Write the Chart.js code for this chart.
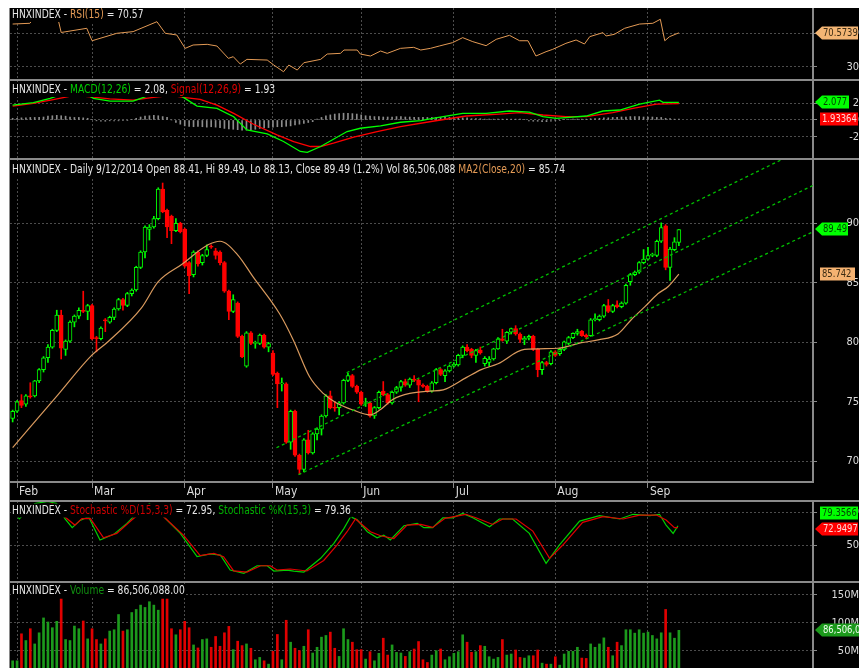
<!DOCTYPE html>
<html>
<head>
<meta charset="utf-8">
<title>HNXINDEX</title>
<script src="https://cdn.jsdelivr.net/npm/chart.js@4.4.1/dist/chart.umd.min.js"></script>
<style>
  body { margin: 0; background: #fff; }
  #wrap { position: absolute; left: 9px; top: 8px; width: 850px; height: 660px; background: #000; overflow: hidden; }
  #wrap canvas { position: absolute; left: 0; }
  .sep { position: absolute; left: 0; width: 850px; height: 2px; background: #8a8a8a; }
  .vl { position: absolute; left: 0; top: 0; width: 1px; height: 660px; background: #8a8a8a; }
</style>
</head>
<body>
<div id="wrap">
  <canvas id="rsi" width="850" height="71" style="top:0"></canvas>
  <canvas id="macd" width="850" height="78" style="top:72px"></canvas>
  <canvas id="main" width="850" height="341" style="top:151px"></canvas>
  <canvas id="stoch" width="850" height="80" style="top:493px"></canvas>
  <canvas id="vol" width="850" height="86" style="top:574px"></canvas>
  <div class="sep" style="top:71px"></div>
  <div class="sep" style="top:150px"></div>
  <div class="sep" style="top:492px"></div>
  <div class="sep" style="top:573px"></div>
  <div class="vl"></div>
</div>
<script>
// bar index of first trading day of each month
const monthIdx = [1, 18, 39, 59, 79, 100, 123, 144];
const monthLabels = ['Feb', 'Mar', 'Apr', 'May', 'Jun', 'Jul', 'Aug', 'Sep'];

// daily OHLC, late Jan .. 9/12/2014
const opens = [73.6,74.2,75.1,74.8,75.5,75.5,76.75,77.7,78.7,79.6,
  81.0,82.3,79.4,80.1,81.7,82.2,82.7,82.6,83.1,80.4,
  80.3,81.9,81.7,82.1,82.8,83.6,83.1,84.1,84.4,86.3,
  87.6,89.5,89.7,90.4,92.9,91.1,90.6,89.4,90.0,89.5,
  86.7,85.7,87.6,86.7,87.3,88.1,87.7,87.6,86.7,84.3,
  82.6,83.3,80.5,78.0,80.8,79.9,79.9,80.6,79.6,79.1,
  77.4,76.5,76.5,71.6,74.2,70.5,69.3,71.8,70.7,72.3,
  72.7,73.8,75.5,74.5,74.5,74.9,76.8,77.2,76.3,75.8,
  74.85,74.9,73.8,74.5,75.9,75.6,74.9,75.8,76.2,76.7,
  76.4,76.9,76.8,76.4,76.3,75.9,76.6,77.7,77.2,77.6,
  78.0,78.1,78.9,79.6,79.4,78.9,79.35,78.2,78.3,78.6,
  79.45,80.3,80.1,80.85,81.15,80.7,80.2,80.35,80.5,79.4,
  77.7,78.3,78.2,79.2,79.05,79.4,79.9,80.4,80.75,80.95,
  80.6,80.55,81.9,81.9,82.2,83.1,82.6,83.15,83.0,83.3,
  85.1,85.7,85.9,86.7,87.0,87.3,87.3,88.5,89.8,86.3,
  87.8,88.41];
const highs = [74.3,75.1,75.6,75.6,76.6,76.8,77.8,78.8,79.8,81.1,
  82.7,82.7,80.2,81.8,82.3,82.9,84.3,83.2,83.2,80.5,
  81.3,82.0,82.2,82.9,83.7,83.7,84.2,84.5,86.4,87.7,
  89.8,89.9,90.6,93.0,93.4,91.2,90.7,90.4,90.1,89.6,
  86.8,87.7,87.7,87.4,88.2,88.2,87.9,87.7,86.8,84.4,
  84.0,83.4,80.6,80.9,80.9,80.1,80.7,80.7,80.0,79.3,
  77.5,77.0,76.6,74.3,74.3,70.6,71.9,72.6,72.4,72.8,
  73.9,75.6,75.9,75.0,75.0,76.9,77.4,77.3,76.4,75.9,
  75.3,75.0,74.6,75.9,76.7,75.7,75.9,76.3,76.8,76.9,
  77.0,77.2,76.9,76.5,76.4,76.7,77.8,77.8,77.7,78.1,
  78.3,79.0,79.7,79.8,79.5,79.4,79.6,78.8,78.8,79.5,
  80.4,81.1,80.9,81.2,81.4,80.8,80.5,80.6,80.6,79.5,
  78.4,78.4,79.3,79.3,79.5,80.1,80.5,80.8,81.1,81.0,
  80.7,82.0,82.4,82.3,83.2,83.6,83.2,83.5,83.4,84.9,
  85.8,86.0,86.8,87.8,88.0,87.5,88.6,90.05,89.9,88.0,
  88.8,89.49];
const lows = [73.3,74.1,74.5,74.6,75.3,75.4,76.6,77.5,78.3,79.5,
  80.9,78.6,78.9,80.0,81.3,82.0,82.5,81.9,80.2,79.2,
  80.2,80.9,81.6,81.9,82.7,82.7,83.0,83.9,84.3,86.2,
  87.1,88.6,89.6,90.3,90.9,88.8,88.3,89.3,89.2,86.3,
  84.1,85.5,86.4,86.5,87.2,87.9,87.0,86.5,84.2,81.9,
  82.5,80.4,78.7,77.9,79.8,79.5,79.8,79.5,79.2,77.2,
  74.5,75.9,71.5,71.0,70.4,68.9,69.1,70.6,70.6,71.8,
  72.2,73.7,74.4,74.2,73.9,74.8,76.7,76.2,75.7,74.7,
  74.6,73.7,73.6,74.4,75.5,74.8,74.8,75.7,75.9,76.3,
  76.2,76.7,75.0,76.2,75.8,75.8,76.5,77.2,76.7,77.5,
  77.9,78.0,78.7,79.2,78.7,78.3,79.0,78.0,78.0,78.5,
  79.4,80.1,79.9,80.7,80.6,80.0,79.8,80.2,79.3,77.1,
  77.3,78.0,78.1,78.8,78.9,79.3,79.8,80.3,80.6,80.5,
  80.3,80.5,81.8,81.8,82.1,82.5,82.5,82.9,82.9,83.2,
  84.8,85.6,85.8,86.6,86.9,87.2,87.2,88.4,86.1,85.2,
  87.7,88.13];
const closes = [74.2,75.0,74.7,75.5,75.4,76.75,77.7,78.7,79.6,81.0,
  82.3,79.5,80.1,81.7,82.2,82.7,82.6,83.1,80.3,80.3,
  81.2,81.8,82.1,82.8,83.6,83.1,84.1,84.4,86.3,87.6,
  89.7,89.7,90.4,92.9,91.0,89.7,89.4,90.0,89.3,86.4,
  85.6,87.6,86.6,87.3,87.8,88.0,87.3,86.7,84.3,82.6,
  83.6,80.5,78.8,80.8,79.9,80.0,80.6,79.6,79.9,77.3,
  76.5,76.6,71.6,74.2,70.5,69.3,71.8,70.7,72.3,72.7,
  73.8,75.5,74.5,74.45,74.9,76.8,77.2,76.3,75.8,74.8,
  74.9,73.8,74.5,75.8,75.6,74.9,75.8,76.2,76.7,76.4,
  76.9,76.8,76.4,76.3,75.9,76.6,77.7,77.3,77.6,78.0,
  78.15,78.9,79.6,79.3,78.9,79.3,79.1,78.65,78.6,79.45,
  80.3,80.15,80.85,81.15,80.7,80.25,80.35,80.5,79.4,77.7,
  78.3,78.15,79.2,78.9,79.4,80.05,80.4,80.75,80.9,80.55,
  80.45,81.9,82.0,82.2,83.1,82.6,83.1,83.0,83.3,84.8,
  85.7,85.9,86.7,87.0,87.3,87.4,88.5,89.65,86.3,87.85,
  88.45,89.49];

// volume, millions of shares
const volumes = [31.8,31.8,80.3,68.2,89.4,62.1,82.1,108.8,101.5,91.2,
  102.7,142.7,70.0,68.2,94.2,89.4,103.3,71.2,89.4,70.0,
  62.1,71.2,85.2,87.6,114.9,85.2,87.6,118.5,124.0,131.8,
  127.6,137.9,131.8,122.7,142.7,142.7,89.4,78.5,87.6,102.7,
  91.2,60.3,54.9,70.0,71.2,56.1,75.5,57.9,82.1,93.6,
  51.8,67.0,59.1,62.1,54.3,33.7,37.9,31.8,25.8,48.8,
  79.1,33.7,104.6,65.2,54.3,50.0,57.9,87.6,45.8,56.1,
  74.3,77.3,83.3,54.3,39.7,89.4,70.0,65.2,51.8,51.8,
  34.9,48.2,31.8,45.2,72.4,42.1,60.3,47.0,45.8,39.7,
  48.2,53.0,66.4,33.7,28.8,42.1,50.0,53.0,33.7,39.1,
  45.2,48.2,78.5,65.2,47.0,48.2,59.1,57.9,39.1,34.9,
  37.9,70.0,42.1,44.0,51.2,37.9,36.7,40.9,40.9,51.2,
  27.6,25.8,25.8,39.1,24.0,44.0,48.8,48.8,56.1,36.7,
  36.1,62.1,56.1,62.1,73.0,56.1,40.9,65.2,59.1,87.6,
  87.6,81.5,87.6,81.5,83.3,77.3,71.2,82.1,124.0,82.1,
  72.4,86.5];

// MA(close,20)
const maX = [0,10.3,17.9,21.6,29.2,33,38.3,44.3,47,50.9,54.5,60.5,63.6,67.3,70.4,73.4,77.2,81,83.2,86.2,
  90,94.6,97.6,102.9,106.2,110,116,123.6,128.9,132.7,137.2,140.2,143.3,146.3,148.6,151];
const maY = [71.15,75.6,78.9,80.05,82.9,85.1,86.55,88.2,88.5,87.4,85.5,82.4,80.2,77.1,75.7,74.9,74.3,73.9,74.3,75.2,
  75.7,75.9,76.0,77.05,77.7,78.2,79.4,79.5,79.97,80.2,80.7,81.9,83.0,84.1,84.7,85.742];

// trend channel (end points)
const chanUpX = [75.7, 181.4], chanUpY = [77.44, 96.66];
const chanMidX = [59.8, 181.4], chanMidY = [71.13, 93.2];
const chanLoX = [64.8, 181.4], chanLoY = [68.87, 89.3];

// RSI(15)
const rsiX = [0,3.9,5.1,10.2,11,16.8,18,23.6,27.3,32.7,34.6,37.2,39.1,40.9,44.1,46.3,48.9,50.0,51.6,53.1,
  57.7,59.2,61.4,62.6,64.5,66.0,69.8,71.3,74.3,75.1,78.1,78.8,81.1,83.4,84.9,87.9,90.9,92.5,94.7,96.7,
  99.7,102.0,104.3,107.3,109.6,112.6,114.9,116.8,118.6,120.9,122.4,125.4,127.7,129.6,130.8,133.8,134.5,136.4,138.7,142.1,
  145.1,146.8,147.8,148.9,151];
const rsiY = [81.1,82,90,89,71,76,61.1,70,72,83.9,70,68,52,56,56.8,54.8,40,42,33.2,38.8,
  38,32,24,32,26,34.8,38.8,45.2,46,50,50,45.2,42.8,48.8,46,52,53.2,50,52,54.8,
  58.8,64.8,60,55.2,62.8,67.6,61.1,61.1,42.8,48,50.8,58,62,57.2,66,70.8,66.8,68.8,76,81.1,
  82,86.8,61.1,66,70.57];

// MACD(12,26), Signal(12,26,9), histogram
const macdX = [0,4.7,8.5,12,16,18.3,22.1,27.3,29.7,33,37,38.7,41.8,46.3,50.1,53.1,57.7,61.4,65.2,66.8,
  69.8,75.8,78.8,83.4,87.9,92.5,95.2,102,107.3,112.6,117.1,120.2,123.2,130,133.8,137.6,142.1,146.6,147.4,151];
const macdY = [1.76,2.04,2.55,3.2,3.3,2.55,2.24,2.24,2.67,3.4,3.2,2.67,1.65,1.37,0.39,-1.18,-1.65,-2.55,-3.73,-3.84,
  -3.14,-1.37,-0.98,-0.71,-0.27,-0.08,0.2,0.78,0.78,1.06,0.94,0.39,0.2,0.47,1.06,1.18,1.88,2.35,2.08,2.08];
const sigX = [0,4.7,9.2,14,18.3,22,27.3,31.9,36,38.7,42.5,46.3,50.1,54.6,59.9,63.7,67.5,69.8,72.7,77.3,
  82.6,87.9,95.2,102.8,110.3,114.9,120.2,125.4,130,136,140.6,145.9,151];
const sigY = [1.65,1.96,2.4,2.9,2.7,2.5,2.35,2.67,2.9,2.67,2.43,1.76,0.78,-0.51,-1.76,-2.55,-3.14,-3.14,-2.75,-2.04,
  -1.37,-0.78,-0.15,0.47,0.7,0.86,0.59,0.39,0.39,0.86,1.37,1.88,1.93];
const histVals = [0.2,0.2,0.25,0.25,0.3,0.3,0.3,0.35,
  0.45,0.5,0.55,0.5,0.45,
  0.35,0.3,0.3,0.25,0.2,0.05,
  -0.1,-0.15,-0.15,-0.1,-0.1,-0.1,-0.05,-0.05,0.05,0.2,
  0.35,0.45,0.5,0.55,0.5,0.4,0.3,
  0.0,-0.3,-0.5,
  -0.7,-0.75,-0.8,-0.75,-0.8,-0.85,-0.8,-0.85,-0.9,-1.0,-1.05,-1.1,
  -1.15,-1.2,-1.2,-1.15,-1.1,
  -1.0,-0.95,-0.9,-0.85,-0.8,-0.8,-0.75,-0.7,-0.6,-0.5,-0.4,-0.3,-0.2,
  0.1,0.3,0.5,0.6,0.7,0.75,0.8,0.8,0.75,0.7,0.6,0.5,
  0.45,0.4,0.4,0.35,0.35,0.35,0.4,0.4,0.35,0.35,0.3,0.3,0.3,0.3,0.3,
  0.3,0.3,0.35,0.3,0.3,0.3,0.25,0.25,
  0.15,0.15,0.15,0.1,0.1,0.1,0.1,0.1,0.1,0.1,0.1,0.1,0.05,
  -0.1,-0.15,-0.15,-0.2,-0.2,-0.15,-0.1,-0.05,
  0.05,0.05,0.1,0.1,0.1,0.1,0.15,0.15,0.2,0.25,0.25,0.3,0.3,0.35,
  0.35,0.4,0.4,0.4,0.35,0.35,0.35,0.3,0.3,
  0.2,0.15,0.1,0.1];

// Stochastic %K(15,3) and %D(15,3,3)
const kX = [0,1.5,3,5,8,10,11.8,13.5,15.3,17.2,19.8,22.9,25.9,27.4,31,34.2,38,41.8,44.8,47.1,
  49.3,52.4,55.4,57.7,59.2,62.2,63.7,66,69.8,72.8,75.1,76.6,78.1,80.4,82.6,84.1,85.6,88.7,91.7,93.2,
  95.2,97.5,99.7,102,104.3,108.1,110.3,113.3,117.1,120.9,123.9,128.5,133,137.6,140.6,144.4,146.6,148.1,149.7,150.8];
const kY = [82,74,80,88,90,88,74.5,65.9,72.6,76,54.6,59.8,69.9,76,88,76,60.7,39.3,41.9,40.8,
  27.1,24,31,31,26.1,27,26.1,25.2,37.8,51.6,65.3,76,73.1,62.2,56.7,59.1,54.6,67.7,69.9,65.9,
  65.9,75,75,79,75,66.8,73.9,73.9,60.7,33.2,50,72,76.9,73.9,78.2,76.9,78.2,68.3,60.7,67.7];
const dX = [0,2,4,6,9,11.8,14.1,15.7,17.6,20.6,23.6,27,31,34.6,38.7,42.5,45.6,47.8,50.1,53.1,
  56.2,58.4,59.9,62.9,66.7,70.5,73.5,75.8,77.7,81.1,83.4,86.4,89.4,92.5,95.2,98,102.7,105,108.8,111.1,
  114.1,117.9,121.7,124.7,129.2,133.8,138.4,142.1,145.9,148.1,150,150.8];
const dY = [80,78,77,84,88,76,68.3,74.2,74.5,56.7,60.7,72.9,86,74.5,59.1,40.3,42.4,39.3,26.3,25.2,
  31,31,27.1,28,26.2,35.8,50,62.2,73.9,62.2,58.5,56,68.3,68.9,66.2,74.5,78.2,75,68.9,73.9,
  73.9,62.8,37.8,50,70.8,76,73.9,77.5,77.5,72.9,65.9,65.9];

const FONT = "'Liberation Sans Narrow', 'DejaVu Sans Condensed', 'Arial Narrow', sans-serif";
const GRID = '#4c4c4c', AXIS = '#8a8a8a', TXT = '#dcdcdc', WHITE = '#e6e6e6';
const UP = '#00ff00', DOWN = '#ff0000', ORANGE = '#e39a55';
const X_MIN = -0.6, X_MAX = 181.4;

const idx = closes.map((_, i) => i);
const upBar = closes.map((c, i) => c >= opens[i]);
const pts = (xs, ys) => xs.map((x, i) => ({ x: x, y: ys[i] }));

// titles and value tags of every panel
const META = {
  rsi: { ty: 7, title: [['HNXINDEX - ', WHITE], ['RSI(15)', ORANGE], [' = 70.57', WHITE]],
    tags: [{ v: 70.5739, t: '70.5739', bg: '#f3b574', fg: '#3a2a12', arrow: true, w: 43 }] },
  macd: { ty: 10, title: [['HNXINDEX - ', WHITE], ['MACD(12,26)', '#00d000'], [' = 2.08, ', WHITE], ['Signal(12,26,9)', '#e00000'], [' = 1.93', WHITE]],
    tags: [{ v: 2.077, t: '2.077', bg: '#00ff00', fg: '#004400', arrow: true, w: 34 },
           { v: 1.93364, dy: 15, t: '1.93364', bg: '#ff0000', fg: '#ffd8d8', arrow: false, w: 38 }] },
  main: { ty: 11, title: [['HNXINDEX - Daily 9/12/2014 Open 88.41, Hi 89.49, Lo 88.13, Close 89.49 (1.2%) Vol 86,506,088 ', WHITE], ['MA2(Close,20)', ORANGE], [' = 85.74', WHITE]],
    tags: [{ v: 89.49, t: '89.49', bg: '#00ff00', fg: '#004400', arrow: true, w: 33 },
           { v: 85.742, t: '85.742', bg: '#f5b271', fg: '#3a2a12', arrow: false, w: 35 }] },
  stoch: { ty: 9.5, title: [['HNXINDEX - ', WHITE], ['Stochastic %D(15,3,3)', '#d00000'], [' = 72.95, ', WHITE], ['Stochastic %K(15,3)', '#00b000'], [' = 79.36', WHITE]],
    tags: [{ v: 79.3566, t: '79.3566', bg: '#00ff00', fg: '#004400', arrow: false, w: 38 },
           { v: 72.9497, dy: 9, t: '72.9497', bg: '#ff0000', fg: '#ffd8d8', arrow: true, w: 43 }] },
  vol: { ty: 9, title: [['HNXINDEX - ', WHITE], ['Volume', '#109010'], [' = 86,506,088.00', WHITE]],
    tags: [{ v: 86.506, t: '86,506,088', bg: '#1c9a1c', fg: '#f0fff0', arrow: true, w: 50 }] }
};

// the reference font is a narrow face: squeeze the panel texts to its width
const TEXT_SX = (() => {
  const c = document.createElement('canvas').getContext('2d');
  c.font = '12px ' + FONT;
  const w = META.main.title.reduce((s, p) => s + c.measureText(p[0]).width, 0);
  return Math.min(1, 553 / w);
})();

const panelDeco = {
  id: 'panelDeco',
  afterDatasetsDraw(chart) {
    const m = META[chart.canvas.id];
    const ctx = chart.ctx;
    ctx.save();
    ctx.font = '12px ' + FONT;
    ctx.textBaseline = 'middle';
    ctx.textAlign = 'left';
    let w = 0;
    m.title.forEach(p => { w += ctx.measureText(p[0]).width; });
    ctx.fillStyle = '#000';
    ctx.fillRect(2, m.ty - 7, w * TEXT_SX + 2, 14);
    ctx.translate(3, m.ty);
    ctx.scale(TEXT_SX, 1);
    let x = 0;
    m.title.forEach(p => {
      ctx.fillStyle = p[1];
      ctx.fillText(p[0], x, 0);
      x += ctx.measureText(p[0]).width;
    });
    ctx.restore();
  },
  afterDraw(chart) {
    const m = META[chart.canvas.id];
    const ctx = chart.ctx;
    const ys = chart.scales.y;
    ctx.save();
    ctx.font = '11px ' + FONT;
    ctx.textBaseline = 'middle';
    ctx.textAlign = 'left';
    m.tags.forEach(t => {
      const yc = Math.round(ys.getPixelForValue(t.v) + (t.dy || 0));
      const x0 = chart.chartArea.right + (t.arrow ? 2 : 7);
      const x1 = x0 + t.w;
      ctx.fillStyle = t.bg;
      ctx.beginPath();
      if (t.arrow) {
        ctx.moveTo(x0, yc);
        ctx.lineTo(x0 + 7, yc - 6.5);
        ctx.lineTo(x1, yc - 6.5);
        ctx.lineTo(x1, yc + 6.5);
        ctx.lineTo(x0 + 7, yc + 6.5);
        ctx.closePath();
      } else {
        ctx.rect(x0, yc - 6.5, t.w, 13);
      }
      ctx.fill();
      ctx.save();
      ctx.translate(x0 + (t.arrow ? 8 : 2), yc + 0.5);
      ctx.scale(TEXT_SX, 1);
      ctx.fillStyle = t.fg;
      ctx.fillText(t.t, 0, 0);
      ctx.restore();
    });
    ctx.restore();
  }
};

function xScale(showLabels) {
  return {
    type: 'linear', min: X_MIN, max: X_MAX, offset: false,
    afterBuildTicks: s => { s.ticks = monthIdx.map(v => ({ value: v })); },
    afterFit: s => { s.height = showLabels ? 18 : 0; s.paddingLeft = 0; s.paddingRight = 0; },
    grid: { color: GRID, offset: false, drawTicks: showLabels, tickLength: 6, tickColor: AXIS },
    border: { display: showLabels, color: AXIS, width: 2, dash: [2, 2] },
    ticks: {
      display: showLabels, color: TXT, font: { family: FONT, size: 12 }, align: 'start',
      labelOffset: 2, padding: -3, maxRotation: 0, autoSkip: false,
      callback: v => { const k = monthIdx.indexOf(v); return k >= 0 ? monthLabels[k] : ''; }
    }
  };
}

function yScale(min, max, ticks, pad, fmt) {
  return {
    type: 'linear', position: 'right', min: min, max: max,
    afterBuildTicks: s => { s.ticks = ticks.map(v => ({ value: v })); },
    afterFit: s => { s.width = 46; s.paddingTop = 0; s.paddingBottom = 0; },
    grid: { color: GRID, drawTicks: true, tickLength: 4, tickColor: AXIS },
    border: { display: true, color: AXIS, width: 2, dash: [2, 2] },
    ticks: { color: TXT, font: { family: FONT, size: 11 }, padding: pad, crossAlign: 'far',
      callback: fmt || (v => v) }
  };
}

function opts(y, showX) {
  return {
    responsive: false, animation: false, devicePixelRatio: 1, events: [],
    layout: { padding: { left: 1, right: 0, top: 0, bottom: 0 } },
    plugins: { legend: { display: false }, tooltip: { enabled: false } },
    scales: { x: xScale(!!showX), y: y }
  };
}

const line = (data, color, width, extra) => Object.assign({
  type: 'line', data: data, borderColor: color, borderWidth: width,
  pointRadius: 0, tension: 0, fill: false
}, extra || {});

// RSI
new Chart(document.getElementById('rsi'), {
  type: 'line',
  data: { datasets: [line(pts(rsiX, rsiY), ORANGE, 1)] },
  options: opts(yScale(15.3, 100.3, [30, 70], 30)),
  plugins: [panelDeco]
});

// MACD
new Chart(document.getElementById('macd'), {
  type: 'bar',
  data: { datasets: [
    line(pts(macdX, macdY), '#00ff00', 1.3, { order: 1 }),
    line(pts(sigX, sigY), '#ff0000', 1.3, { order: 2 }),
    { type: 'bar', data: idx.map(i => ({ x: i, y: histVals[i] })), backgroundColor: '#8c8c8c',
      barThickness: 1, grouped: false, order: 3 }
  ] },
  options: opts(yScale(-4.5, 4.73, [-2, 0, 2], 31)),
  plugins: [panelDeco]
});

// price panel
new Chart(document.getElementById('main'), {
  type: 'bar',
  data: { datasets: [
    { type: 'bar', data: idx.map(i => ({ x: i, y: [lows[i], highs[i]] })),
      backgroundColor: upBar.map(u => u ? UP : DOWN), barThickness: 1, grouped: false, order: 5 },
    { type: 'bar', data: idx.map(i => ({ x: i, y: [opens[i], closes[i]] })),
      backgroundColor: upBar.map(u => u ? '#000' : DOWN), borderColor: upBar.map(u => u ? UP : DOWN),
      borderWidth: 1, borderSkipped: false, barThickness: 4, minBarLength: 1, grouped: false, order: 4 },
    line(pts(maX, maY), '#d99a5e', 1.2, { order: 3, cubicInterpolationMode: 'monotone' }),
    line(pts(chanUpX, chanUpY), '#00c000', 1.3, { borderDash: [3, 3], order: 2 }),
    line(pts(chanMidX, chanMidY), '#00c000', 1.3, { borderDash: [3, 3], order: 2 }),
    line(pts(chanLoX, chanLoY), '#00c000', 1.3, { borderDash: [3, 3], order: 2 })
  ] },
  options: opts(yScale(68.25, 95.42, [70, 75, 80, 85, 90], 30), true),
  plugins: [panelDeco]
});

// Stochastic
new Chart(document.getElementById('stoch'), {
  type: 'line',
  data: { datasets: [
    line(pts(kX, kY), '#00d000', 1.2, { order: 2 }),
    line(pts(dX, dY), '#e00000', 1.2, { order: 1 })
  ] },
  options: opts(yScale(17, 90.4, [50, 80], 30)),
  plugins: [panelDeco]
});

// Volume
new Chart(document.getElementById('vol'), {
  type: 'bar',
  data: { datasets: [
    { type: 'bar', data: idx.map(i => ({ x: i, y: volumes[i] })),
      backgroundColor: upBar.map(u => u ? '#1c9a1c' : '#e00000'), barThickness: 2, grouped: false }
  ] },
  options: opts(yScale(18.9, 173.3, [50, 100, 150], 19, v => v + 'M')),
  plugins: [panelDeco]
});
</script>
</body>
</html>
